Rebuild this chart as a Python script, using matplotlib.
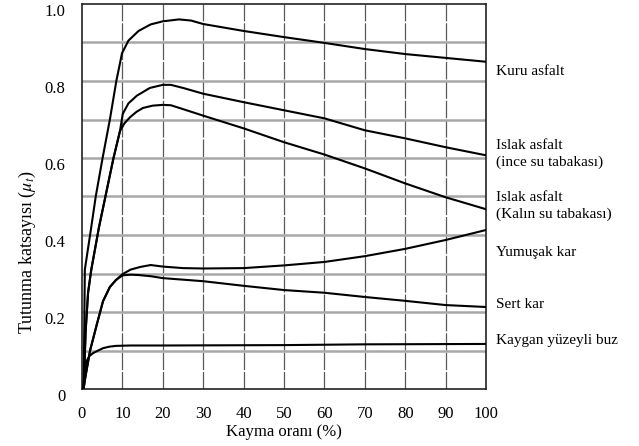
import matplotlib
matplotlib.use("Agg")
import matplotlib.pyplot as plt
import matplotlib.transforms as mtransforms

plt.rcParams['font.family'] = ['Liberation Serif', 'DejaVu Serif']
plt.rcParams['mathtext.fontset'] = 'stix'

# slip ratio (%) and adhesion coefficient values
kuru_x = [0.4, 0.55, 0.7, 2.2, 3.4, 5.1, 6.9, 8.5, 9.9, 11.5, 14, 17, 20, 24, 27, 30, 40, 50, 60, 70, 80, 90, 100]
kuru_y = [0.0, 0.15, 0.31, 0.414, 0.5, 0.6, 0.7, 0.8, 0.872, 0.905, 0.93, 0.947, 0.955, 0.96, 0.957, 0.948, 0.93, 0.914, 0.899, 0.883, 0.87, 0.86, 0.85]

ince_x = [0.4, 0.9, 1.5, 2.3, 4.2, 6.0, 7.8, 9.4, 10.1, 11.5, 13.6, 16.8, 20, 22, 25, 30, 40, 50, 60, 70, 80, 90, 100]
ince_y = [0.0, 0.15, 0.25, 0.31, 0.42, 0.51, 0.6, 0.67, 0.715, 0.742, 0.762, 0.782, 0.79, 0.79, 0.782, 0.767, 0.745, 0.724, 0.703, 0.672, 0.651, 0.628, 0.607]

kalin_x = [0.4, 0.9, 1.5, 2.3, 4.2, 6.0, 7.8, 9.4, 10.5, 11.9, 13.5, 15.1, 17.5, 20, 22, 25, 30, 40, 50, 60, 70, 80, 90, 100]
kalin_y = [0.0, 0.15, 0.25, 0.31, 0.42, 0.51, 0.6, 0.67, 0.69, 0.706, 0.72, 0.73, 0.736, 0.738, 0.737, 0.727, 0.71, 0.677, 0.641, 0.609, 0.573, 0.534, 0.498, 0.467]

yumusak_x = [0.4, 0.7, 2.0, 3.6, 5.2, 6.9, 8.4, 10, 12, 14.4, 17, 20, 25, 30, 40, 50, 60, 70, 80, 90, 100]
yumusak_y = [0.0, 0.023, 0.1, 0.165, 0.228, 0.265, 0.283, 0.298, 0.31, 0.317, 0.322, 0.318, 0.314, 0.313, 0.314, 0.321, 0.33, 0.345, 0.364, 0.387, 0.413]

sert_x = [0.4, 0.7, 2.0, 3.6, 5.2, 6.9, 8.4, 10, 12, 14, 17, 20, 30, 40, 50, 60, 70, 80, 90, 100]
sert_y = [0.0, 0.023, 0.1, 0.165, 0.228, 0.265, 0.283, 0.295, 0.297, 0.296, 0.293, 0.288, 0.28, 0.268, 0.257, 0.25, 0.239, 0.229, 0.218, 0.213]

buz_x = [0.4, 0.7, 1.0, 1.8, 2.7, 4.0, 5.2, 6.8, 8.4, 12, 20, 50, 70, 100]
buz_y = [0.0, 0.045, 0.07, 0.085, 0.093, 0.1, 0.106, 0.11, 0.112, 0.113, 0.113, 0.114, 0.116, 0.117]

series = [
    (kuru_x, kuru_y, "Kuru asfalt"),
    (ince_x, ince_y, "Islak asfalt\n(ince su tabakası)"),
    (kalin_x, kalin_y, "Islak asfalt\n(Kalın su tabakası)"),
    (yumusak_x, yumusak_y, "Yumuşak kar"),
    (sert_x, sert_y, "Sert kar"),
    (buz_x, buz_y, "Kaygan yüzeyli buz"),
]
label_y = [0.825, 0.61, 0.475, 0.355, 0.22, 0.125]

x_ticks = [0, 10, 20, 30, 40, 50, 60, 70, 80, 90, 100]
y_ticks = [0, 0.2, 0.4, 0.6, 0.8, 1.0]
y_tick_labels = ["0", "0.2", "0.4", "0.6", "0.8", "1.0"]
y_minor = [0.1, 0.3, 0.5, 0.7, 0.9]

fig = plt.figure(figsize=(6.39, 4.46), dpi=100)
ax = fig.add_axes([82/639, 57/446, 404/639, 385/446])

ax.set_xlim(0, 100)
ax.set_ylim(0, 1.0)
ax.set_xticks(x_ticks)
ax.set_yticks(y_ticks)
ax.set_yticklabels(y_tick_labels)
ax.set_yticks(y_minor, minor=True)

for x in x_ticks[1:-1]:
    ax.axvline(x, color='#5a5a5a', lw=0.9, ls=(0, (14, 1.5)), zorder=1)
for y in y_ticks[1:-1] + y_minor:
    ax.axhline(y, color='#a8a8a8', lw=1.8, zorder=1)

for (xs, ys, name), ly in zip(series, label_y):
    ax.plot(xs, ys, color='black', lw=1.5, zorder=3, solid_joinstyle='round')
    ax.text(102.5, ly, name, fontsize=11, va='center', ha='left',
            transform=ax.transData, clip_on=False, linespacing=1.3)

ax.tick_params(axis='both', which='both', length=0, labelsize=12, pad=12)
offset = mtransforms.ScaledTranslation(0, -6/100, fig.dpi_scale_trans)
for lab in ax.get_yticklabels():
    lab.set_transform(lab.get_transform() + offset)

for s in ax.spines.values():
    s.set_linewidth(1.2)
    s.set_color('#222222')

ax.set_xlabel("Kayma oranı (%)", fontsize=12, labelpad=2)
ax.set_ylabel(r"Tutunma katsayısı ($\mu_t$)", fontsize=13)
ax.yaxis.set_label_coords(-0.11, 0.355)

fig.savefig("out.png", dpi=100)
